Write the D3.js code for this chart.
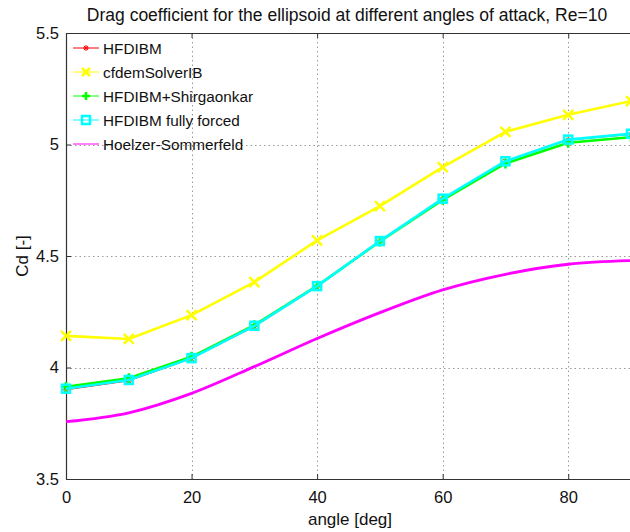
<!DOCTYPE html>
<html>
<head>
<meta charset="utf-8">
<script src="https://cdn.jsdelivr.net/npm/d3@7"></script>
<style>
  body { margin: 0; background: #fff; }
  svg { font-family: "Liberation Sans", Arial, Helvetica, sans-serif; }
</style>
</head>
<body>
<svg id="chart" width="630" height="532"></svg>
<script>
// values
let angles = [0, 10, 20, 30, 40, 50, 60, 70, 80, 90];
let hfdibm = [3.900, 3.940, 4.040, 4.183, 4.362, 4.565, 4.755, 4.925, 5.020, 5.045];
let cfdem = [4.142, 4.128, 4.235, 4.383, 4.570, 4.724, 4.899, 5.057, 5.133, 5.195];
let shirg = [3.913, 3.952, 4.048, 4.190, 4.366, 4.565, 4.752, 4.915, 5.008, 5.033];
let fully = [3.905, 3.944, 4.042, 4.187, 4.365, 4.567, 4.757, 4.925, 5.022, 5.048];
let hoelzer = [3.757, 3.797, 3.884, 4.004, 4.130, 4.246, 4.348, 4.418, 4.463, 4.479];
let xTicks = [0, 20, 40, 60, 80];
let yTicks = [3.5, 4, 4.5, 5, 5.5];

let series = [
	{name: "HFDIBM", vals: hfdibm, color: "#ff0000", width: 1, marker: "star"},
	{name: "cfdemSolverIB", vals: cfdem, color: "#ffff00", width: 2.6, marker: "x"},
	{name: "HFDIBM+Shirgaonkar", vals: shirg, color: "#00ff00", width: 2.6, marker: "plus"},
	{name: "HFDIBM fully forced", vals: fully, color: "#00ffff", width: 2.6, marker: "square"},
	{name: "Hoelzer-Sommerfeld", vals: hoelzer, color: "#ff00ff", width: 2.8, marker: null}
];

let margin = {top: 33, right: -1, bottom: 53, left: 66};
let width = 630, height = 532;
let svg = d3.select("#chart");

let x = d3.scaleLinear().domain([0, 90]).range([margin.left, width - margin.right]);
let y = d3.scaleLinear().domain([3.5, 5.5]).range([height - margin.bottom, margin.top]);

// grid
let grid = svg.append("g")
	.attr("stroke", "#9a9a9a")
	.attr("stroke-width", 1)
	.attr("stroke-dasharray", "1.5,3");
grid.selectAll(".gx").data(xTicks.slice(1)).join("line")
	.attr("x1", d => Math.round(x(d)) + 0.5).attr("x2", d => Math.round(x(d)) + 0.5)
	.attr("y1", y(5.5)).attr("y2", y(3.5));
grid.selectAll(".gy").data(yTicks.slice(1, -1)).join("line")
	.attr("y1", d => Math.round(y(d)) + 0.5).attr("y2", d => Math.round(y(d)) + 0.5)
	.attr("x1", x(0)).attr("x2", width);

// axes
let xAxis = svg.append("g")
	.attr("transform", `translate(0,${y(3.5)})`)
	.call(d3.axisBottom(x).tickValues(xTicks).tickSizeInner(-5).tickSizeOuter(0).tickPadding(12));
let yAxis = svg.append("g")
	.attr("transform", `translate(${x(0)},0)`)
	.call(d3.axisLeft(y).tickValues(yTicks).tickFormat(d3.format("")).tickSizeInner(-5).tickSizeOuter(0).tickPadding(7));
let xTop = svg.append("g")
	.attr("transform", `translate(0,${y(5.5)})`)
	.call(d3.axisTop(x).tickValues(xTicks).tickSizeInner(-5).tickSizeOuter(0).tickFormat(""));
[xAxis, yAxis, xTop].forEach(a => {
	a.selectAll(".domain").attr("stroke", "#333").attr("stroke-width", 1.2);
	a.selectAll(".tick line").attr("stroke", "#333");
	a.selectAll("text").attr("font-size", 16.5).attr("fill", "#111").attr("font-family", "Liberation Sans, Arial, sans-serif");
});

// lines
let line = d3.line().x((d, i) => x(angles[i])).y(d => y(d));
let smooth = d3.line().x((d, i) => x(angles[i])).y(d => y(d)).curve(d3.curveMonotoneX);

function marker(g, type, color, cx, cy, s) {
	if (type == "star") {
		let p = `M${cx-s},${cy}h${2*s}M${cx},${cy-s}v${2*s}M${cx-s*0.7},${cy-s*0.7}l${1.4*s},${1.4*s}M${cx-s*0.7},${cy+s*0.7}l${1.4*s},${-1.4*s}`;
		g.append("path").attr("d", p).attr("stroke", color).attr("stroke-width", 1).attr("fill", "none");
	} else if (type == "x") {
		let p = `M${cx-s},${cy-s}L${cx+s},${cy+s}M${cx-s},${cy+s}L${cx+s},${cy-s}`;
		g.append("path").attr("d", p).attr("stroke", color).attr("stroke-width", 2.5).attr("fill", "none");
	} else if (type == "plus") {
		let p = `M${cx-s},${cy}h${2*s}M${cx},${cy-s}v${2*s}`;
		g.append("path").attr("d", p).attr("stroke", color).attr("stroke-width", 2.5).attr("fill", "none");
	} else if (type == "square") {
		g.append("rect").attr("x", cx - s).attr("y", cy - s).attr("width", 2 * s).attr("height", 2 * s)
			.attr("stroke", color).attr("stroke-width", 2.5).attr("fill", "none");
	}
}

let sizes = {star: 3, x: 5, plus: 5, square: 4};
let plot = svg.append("g");
series.forEach(s => {
	plot.append("path")
		.attr("d", s.marker ? line(s.vals) : smooth(s.vals))
		.attr("fill", "none")
		.attr("stroke", s.color)
		.attr("stroke-width", s.width)
		.attr("stroke-linejoin", "round");
	if (s.marker) {
		let mg = plot.append("g");
		s.vals.forEach((v, i) => marker(mg, s.marker, s.color, x(angles[i]), y(v), sizes[s.marker]));
	}
});

// legend
let legend = svg.append("g").attr("transform", "translate(73,48)");
series.forEach((s, i) => {
	let row = legend.append("g").attr("transform", `translate(0,${i * 24})`);
	row.append("line").attr("x1", 0).attr("x2", 26).attr("y1", 0).attr("y2", 0)
		.attr("stroke", s.color).attr("stroke-width", 1);
	if (s.marker) marker(row, s.marker, s.color, 13, 0, s.marker == "star" ? 3 : 4);
	row.append("text").attr("x", 30).attr("y", 5.5)
		.attr("font-size", 15.3).attr("fill", "#111").text(s.name);
});

// labels
svg.append("text").attr("x", 347).attr("y", 21).attr("text-anchor", "middle")
	.attr("font-size", 17.5).attr("fill", "#111")
	.text("Drag coefficient for the ellipsoid at different angles of attack, Re=10");
svg.append("text").attr("x", 350).attr("y", 525).attr("text-anchor", "middle")
	.attr("font-size", 17).attr("fill", "#111").text("angle [deg]");
svg.append("text").attr("transform", "translate(28,256) rotate(-90)").attr("text-anchor", "middle")
	.attr("font-size", 17).attr("fill", "#111").text("Cd [-]");
</script>
</body>
</html>
